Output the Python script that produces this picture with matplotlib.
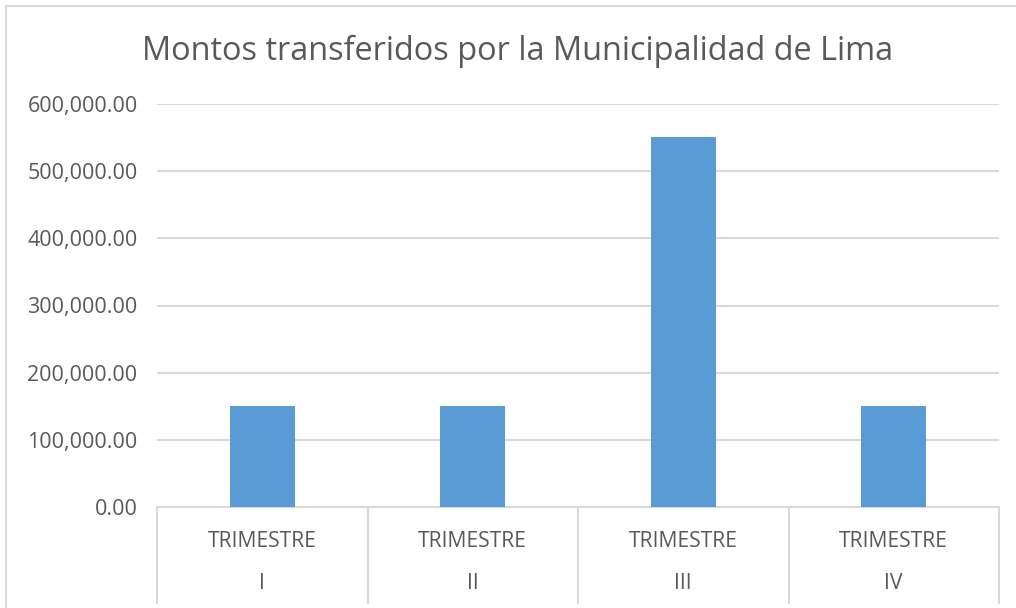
import matplotlib
matplotlib.use("Agg")
import matplotlib.pyplot as plt
from matplotlib.patches import Rectangle
from matplotlib.ticker import FuncFormatter

title = "Montos transferidos por la Municipalidad de Lima"
categories_top = ["TRIMESTRE", "TRIMESTRE", "TRIMESTRE", "TRIMESTRE"]
categories_sub = ["I", "II", "III", "IV"]
values = [150000, 150000, 551000, 150000]
yticks = [0, 100000, 200000, 300000, 400000, 500000, 600000]

W, H = 1016, 608
fig = plt.figure(figsize=(W / 100, H / 100), dpi=100)
plt.rcParams['font.family'] = ['Open Sans', 'DejaVu Sans']

gray = "#595959"
grid = "#D9D9D9"
bar_color = "#5B9BD5"

# chart frame
fig.patches.append(Rectangle((6 / W, -0.2), 1.5, (H - 6) / H + 0.2, transform=fig.transFigure,
                             fill=False, edgecolor=grid, linewidth=1.5))

ax_left, ax_right = 157 / W, 999 / W
ax_bottom, ax_top = (H - 507) / H, (H - 104) / H
ax = fig.add_axes([ax_left, ax_bottom, ax_right - ax_left, ax_top - ax_bottom])

x = list(range(len(values)))
ax.bar(x, values, width=0.31, color=bar_color, zorder=3)
ax.set_xlim(-0.5, len(values) - 0.5)
ax.set_ylim(0, 600000)
ax.set_yticks(yticks)
ax.yaxis.set_major_formatter(FuncFormatter(lambda v, p: f"{v:,.2f}"))
ax.tick_params(axis='y', length=0, pad=14, labelsize=15.5, labelcolor=gray)
ax.set_xticks([])
ax.grid(axis='y', color=grid, linewidth=1.5, zorder=0)
for s in ['top', 'right', 'left']:
    ax.spines[s].set_visible(False)
ax.spines['bottom'].set_color(grid)
ax.spines['bottom'].set_linewidth(1.5)

trans = ax.get_xaxis_transform()
for b in [i - 0.5 for i in range(len(values) + 1)]:
    ax.plot([b, b], [0, -0.238], transform=trans, color=grid, linewidth=1.5, clip_on=False)
for i, (t, s) in enumerate(zip(categories_top, categories_sub)):
    ax.text(i, -0.086, t, transform=trans, ha='center', va='center', fontsize=15.2, color=gray)
    ax.text(i, -0.19, s, transform=trans, ha='center', va='center', fontsize=15.2, color=gray)

fig.text(518 / W, (H - 51) / H, title, ha='center', va='center', fontsize=23.4, color=gray)

fig.savefig("out.png", dpi=100, facecolor="white")
